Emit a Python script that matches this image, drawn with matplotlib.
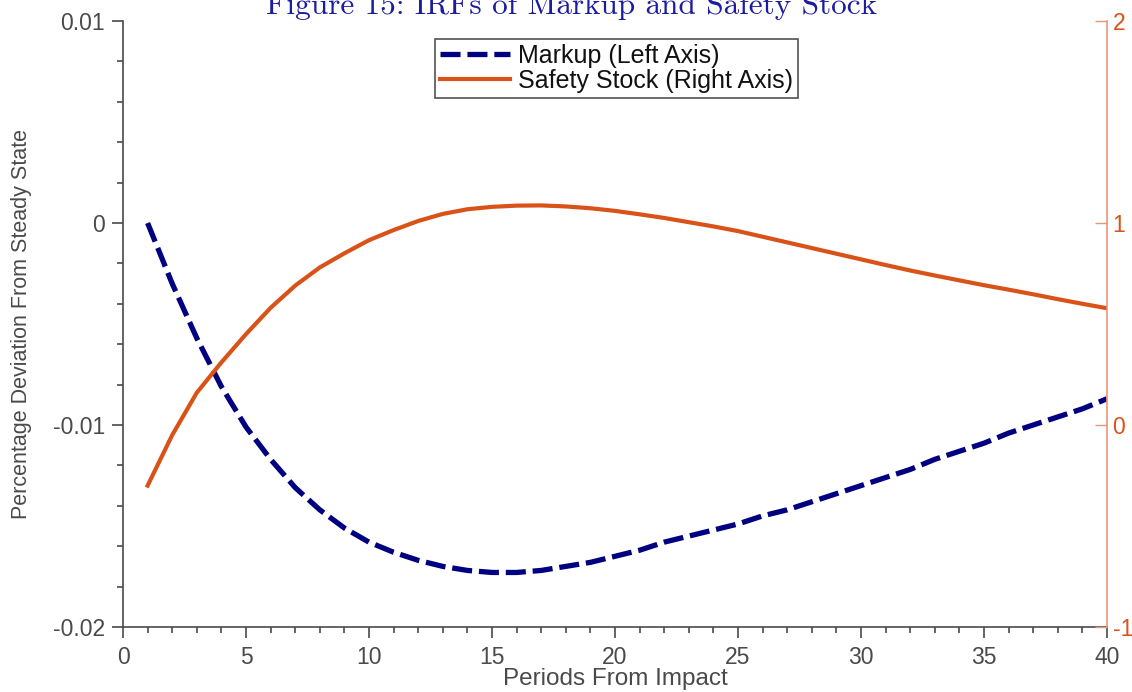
import matplotlib
matplotlib.use("Agg")
import matplotlib.pyplot as plt
from matplotlib.ticker import MultipleLocator, FixedLocator, FuncFormatter

periods = list(range(1, 41))
markup = [0.0, -0.0030, -0.0057, -0.0081, -0.0101, -0.0117, -0.0131, -0.0142, -0.0151, -0.0158,
          -0.0163, -0.0167, -0.0170, -0.0172, -0.0173, -0.0173, -0.0172, -0.0170, -0.0168, -0.0165,
          -0.0162, -0.0158, -0.0155, -0.0152, -0.0149, -0.0145, -0.0142, -0.0138, -0.0134, -0.0130,
          -0.0126, -0.0122, -0.0117, -0.0113, -0.0109, -0.0104, -0.0100, -0.0096, -0.0092, -0.0087]
safety_stock = [-0.30, -0.05, 0.16, 0.31, 0.45, 0.58, 0.69, 0.78, 0.85, 0.915,
                0.965, 1.01, 1.045, 1.068, 1.08, 1.086, 1.087, 1.082, 1.073, 1.06,
                1.043, 1.025, 1.004, 0.983, 0.96, 0.932, 0.904, 0.876, 0.848, 0.82,
                0.792, 0.765, 0.74, 0.716, 0.692, 0.67, 0.647, 0.623, 0.60, 0.578]

left_ticks = [-0.02, -0.01, 0.0, 0.01]
left_labels = ["-0.02", "-0.01", "0", "0.01"]
right_ticks = [-1, 0, 1, 2]
right_labels = ["-1", "0", "1", "2"]
x_ticks = [0, 5, 10, 15, 20, 25, 30, 35, 40]

title = "Figure 15: IRFs of Markup and Safety Stock"
xlabel = "Periods From Impact"
ylabel = "Percentage Deviation From Steady State"

navy = "#000080"
orange = "#D95319"
gray = "#4a4a4a"
sans = ["Liberation Sans", "DejaVu Sans"]

fig = plt.figure(figsize=(11.32, 6.92), dpi=100)
ax = fig.add_axes([123/1132, 1 - 627/692, (1107-123)/1132, (627-21)/692])
ax2 = ax.twinx()

l1, = ax.plot(periods, markup, color=navy, lw=3.8, dashes=(3.8, 1.3), label="Markup (Left Axis)")
l2, = ax2.plot(periods, safety_stock, color=orange, lw=3.0, label="Safety Stock (Right Axis)")

ax.set_xlim(0, 40)
ax.set_ylim(-0.02, 0.01)
ax2.set_ylim(-1, 2)

for a in (ax, ax2):
    a.spines["top"].set_visible(False)
ax.spines["right"].set_visible(False)
ax2.spines["left"].set_visible(False)
ax2.spines["bottom"].set_visible(False)
ax.spines["left"].set_color(gray)
ax.spines["bottom"].set_color(gray)
ax.spines["left"].set_linewidth(1.2)
ax.spines["bottom"].set_linewidth(1.2)
ax2.spines["right"].set_color("#E8967A")
ax2.spines["right"].set_linewidth(1.2)

ax.xaxis.set_major_locator(FixedLocator(x_ticks))
ax.xaxis.set_minor_locator(MultipleLocator(1))
ax.yaxis.set_major_locator(FixedLocator(left_ticks))
ax.yaxis.set_major_formatter(FuncFormatter(lambda v, p: left_labels[left_ticks.index(round(v, 4))] if round(v, 4) in left_ticks else ""))
ax.yaxis.set_minor_locator(MultipleLocator(0.002))
ax.tick_params(axis="both", which="major", direction="out", length=8, width=1.2, color=gray,
               labelcolor=gray, labelsize=16.5, pad=6)
ax.tick_params(axis="y", which="major", pad=5)
ax.tick_params(axis="both", which="minor", direction="out", length=4, width=1.2, color=gray)
for t in ax.get_xticklabels() + ax.get_yticklabels():
    t.set_fontfamily(sans)

ax2.yaxis.set_major_locator(FixedLocator(right_ticks))
ax2.set_yticklabels(right_labels)
ax2.tick_params(axis="y", which="major", direction="in", length=9, width=1.0, color="#E8967A",
                labelcolor=orange, labelsize=16.5, pad=4)
for t in ax2.get_yticklabels():
    t.set_fontfamily(sans)

fig.text((123 + 492) / 1132, 1 - 685/692, xlabel, ha="center", va="baseline",
         fontsize=17.5, color=gray, family=sans)
fig.text(22/1132, 1 - 324/692, ylabel, rotation=90, ha="center", va="center",
         fontsize=15.5, color=gray, family=["Liberation Sans Narrow", "Liberation Sans", "DejaVu Sans"])

fig.text(0.505, 0.992, title, ha="center", va="center", fontsize=22.5,
         color="#1c1ca0", family=["cmr10", "DejaVu Serif"])

leg = ax2.legend([l1, l2], [l1.get_label(), l2.get_label()], loc="upper center",
                 bbox_to_anchor=(0.5015, 0.97), fontsize=18, frameon=True, fancybox=False,
                 handlelength=2.8, handletextpad=0.3, borderpad=0.2, labelspacing=0.02,
                 borderaxespad=0)
leg.get_frame().set_edgecolor("#262626")
leg.get_frame().set_linewidth(1.2)
for t in leg.get_texts():
    t.set_fontfamily(sans)
    t.set_color("#111111")

fig.savefig("out.png", dpi=100)
